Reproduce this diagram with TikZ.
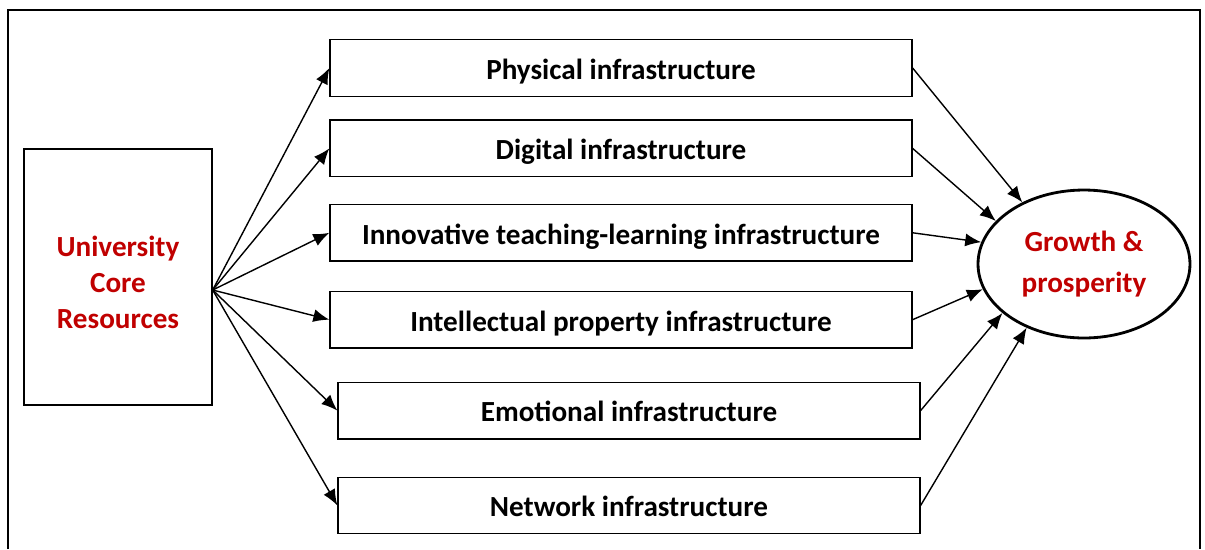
\documentclass[tikz,border=0pt]{standalone}
\usepackage{fontspec}
\setmainfont{Carlito}
\usetikzlibrary{shapes.geometric}
\usetikzlibrary{positioning}
\usetikzlibrary{arrows.meta}
\usetikzlibrary{calc}
\definecolor{coreRed}{RGB}{192,0,0}

\begin{document}
\begin{tikzpicture}[x=0.02cm,y=-0.02cm,
        every node/.style={font=\fontsize{16.6}{20.5}\selectfont\bfseries},
        infra/.style={draw,rectangle,line width=0.8pt,minimum width=11.64cm,minimum height=1.13cm,inner sep=0pt,text height=17pt,text depth=4pt},
        link/.style={-{Latex[length=3.2mm,width=2.6mm]},line width=0.8pt}]
   \useasboundingbox (0,0) rectangle (1205,549);
   \draw[line width=0.8pt] (8,549) -- (8,10) -- (1200,10) -- (1200,549);
   \node (core) [draw,line width=0.8pt,minimum width=3.76cm,minimum height=5.12cm,align=center,text=coreRed] at (118,277) {\rule{0pt}{17.5pt}University\\Core\\Resources};
   \node (phys) [infra] at (621,68) {Physical infrastructure};
   \node (digi) [infra,below=0.45cm of phys] {Digital infrastructure};
   \node (innov) [infra,below=0.53cm of digi] {Innovative teaching-learning infrastructure};
   \node (intel) [infra,below=0.58cm of innov] {Intellectual property infrastructure};
   \node (emot) [infra,below=0.66cm of intel,xshift=0.16cm] {Emotional infrastructure};
   \node (netw) [infra,below=0.74cm of emot] {Network infrastructure};
   \node (grow) [draw,ellipse,line width=1.6pt,minimum width=4.24cm,minimum height=2.96cm,inner sep=0pt,align=center,font=\fontsize{16.6}{23}\selectfont\bfseries,text=coreRed] at (1084,264) {Growth \&\\prosperity};
   \coordinate (fan) at ($(core.east)+(0,13)$);
   \foreach \b in {phys,digi,innov,intel,emot,netw}
      \draw[link] (fan) -- (\b.west);
   \foreach \b/\a in {phys/135,digi/154,innov/168,intel/194,emot/211,netw/228}
      \draw[link] (\b.east) -- (grow.\a);
\end{tikzpicture}
\end{document}
